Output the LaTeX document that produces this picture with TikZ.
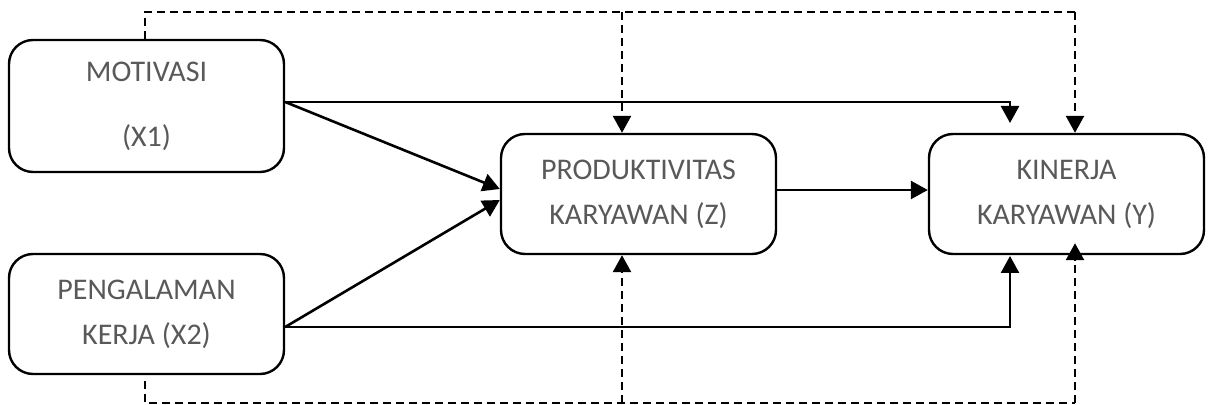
\documentclass[tikz,border=0pt]{standalone}
\usepackage{fontspec}
\setmainfont{Carlito}
\usetikzlibrary{arrows.meta,calc}
\definecolor{txtgray}{RGB}{89,89,89}
\begin{document}
\begin{tikzpicture}[
  x=0.5pt, y=-0.5pt,
  box/.style={rectangle, rounded corners=12pt, draw, line width=1.2pt, minimum width=137.5pt, minimum height=60pt,
    align=center, text=txtgray, font=\fontsize{15}{22.5}\selectfont},
  arr/.style={-{Triangle[width=9pt,length=8.5pt]}, line width=1.3pt},
  dasharr/.style={-{Triangle[width=9pt,length=8.5pt]}, line width=1.3pt, dash pattern=on 4pt off 2.5pt},
  dline/.style={line width=1.3pt, dash pattern=on 4pt off 2.5pt},
]
  \useasboundingbox (0,0) rectangle (1214,405);

  % Variable boxes
  \node[box, minimum height=66pt] (mot) at (146.5,106) {MOTIVASI\\[10pt](X1)};
  \node[box] (peng) at (146.5,314) {PENGALAMAN\\KERJA (X2)};
  \node[box] (prod) at (638.5,194) {PRODUKTIVITAS\\KARYAWAN (Z)};
  \node[box] (kin) at (1066.5,194) {KINERJA\\KARYAWAN (Y)};

  % Corner points of the dashed frame and the bypass lines
  \coordinate (tl) at (145,12);
  \coordinate (tm) at (622,12);
  \coordinate (tr) at (1075,12);
  \coordinate (bl) at (145,403);
  \coordinate (bm) at (622,403);
  \coordinate (br) at (1075,403);
  \coordinate (ktop) at (1010,123);
  \coordinate (kbot) at (1010,256);

  % Direct paths
  \draw[arr] ($(mot.east)+(0,-4)$) -- ($(prod.west)+(0,-5)$);
  \draw[arr] ($(peng.east)+(0,13)$) -- ($(prod.west)+(0,6)$);
  \draw[arr] ($(prod.east)+(0,-4)$) -- ($(kin.west)+(0,-4)$);
  \draw[arr] ($(mot.east)+(0,-4)$) -| (ktop);
  \draw[arr] ($(peng.east)+(0,13)$) -| (kbot);

  % Dashed paths over the top
  \draw[dline] (mot.north -| tl) -- (tl) -- (tr);
  \draw[dasharr] (tr) -- (kin.north -| tr);
  \draw[dasharr] (tm) -- (prod.north -| tm);

  % Dashed paths along the bottom
  \draw[dline] ($(peng.south -| bl)+(0,6)$) -- (bl) -- (br);
  \draw[dasharr] (br) -- ($(kin.south -| br)+(0,-12)$);
  \draw[dasharr] (bm) -- (prod.south -| bm);
\end{tikzpicture}
\end{document}
